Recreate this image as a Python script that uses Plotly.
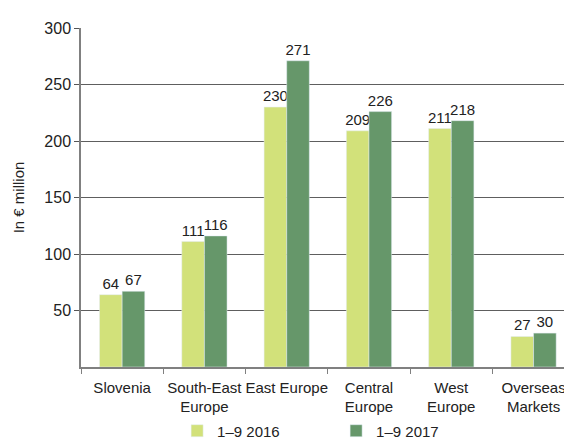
import plotly.graph_objects as go

categories = ["Slovenia", "South-East<br>Europe", "East Europe", "Central<br>Europe", "West<br>Europe", "Overseas<br>Markets"]
series_2016 = [64, 111, 230, 209, 211, 27]
series_2017 = [67, 116, 271, 226, 218, 30]
series_names = ["1–9 2016", "1–9 2017"]
y_ticks = [50, 100, 150, 200, 250, 300]

FONT = "Liberation Sans Narrow, Arial Narrow, Liberation Sans, sans-serif"

fig = go.Figure()
fig.add_bar(x=categories, y=series_2016, name=series_names[0], marker_color="#d2e17a",
            text=series_2016, textposition="outside", cliponaxis=False, constraintext="none",
            textfont=dict(size=15, color="#222", family=FONT))
fig.add_bar(x=categories, y=series_2017, name=series_names[1], marker_color="#66976a",
            text=series_2017, textposition="outside", cliponaxis=False, constraintext="none",
            textfont=dict(size=15, color="#222", family=FONT))

fig.update_layout(
    width=564, height=440,
    margin=dict(l=81, r=0, t=28, b=73, autoexpand=False),
    paper_bgcolor="white", plot_bgcolor="white",
    barmode="group", bargap=0.45, bargroupgap=0,
    font=dict(family=FONT, size=15, color="#222"),
    showlegend=True,
    legend=dict(orientation="h", x=0.199, y=-0.14, xanchor="left", yanchor="top",
                entrywidth=114, font=dict(size=15, family=FONT), itemwidth=30,
                bgcolor="rgba(0,0,0,0)"),
    xaxis=dict(range=[-0.5, 5.37], tickson="boundaries", ticks="outside", ticklen=5,
               tickcolor="#808080", showline=True, linecolor="#808080", linewidth=1.5,
               showgrid=False, tickangle=0, automargin=False, ticklabelstandoff=6,
               tickfont=dict(size=15, family=FONT), fixedrange=True),
    yaxis=dict(range=[0, 300], tickvals=y_ticks, ticks="outside", ticklen=5,
               tickcolor="#555", showline=True, linecolor="#808080", linewidth=1.5,
               showgrid=True, gridcolor="#5e5e5e", gridwidth=1, zeroline=False,
               automargin=False, tickfont=dict(size=16, family=FONT), fixedrange=True,
               title=dict(text="In € million", font=dict(size=15, family=FONT), standoff=16)),
)

fig.write_html("out.html", post_script="document.body.style.margin='0px';",
               config={"displayModeBar": False})
